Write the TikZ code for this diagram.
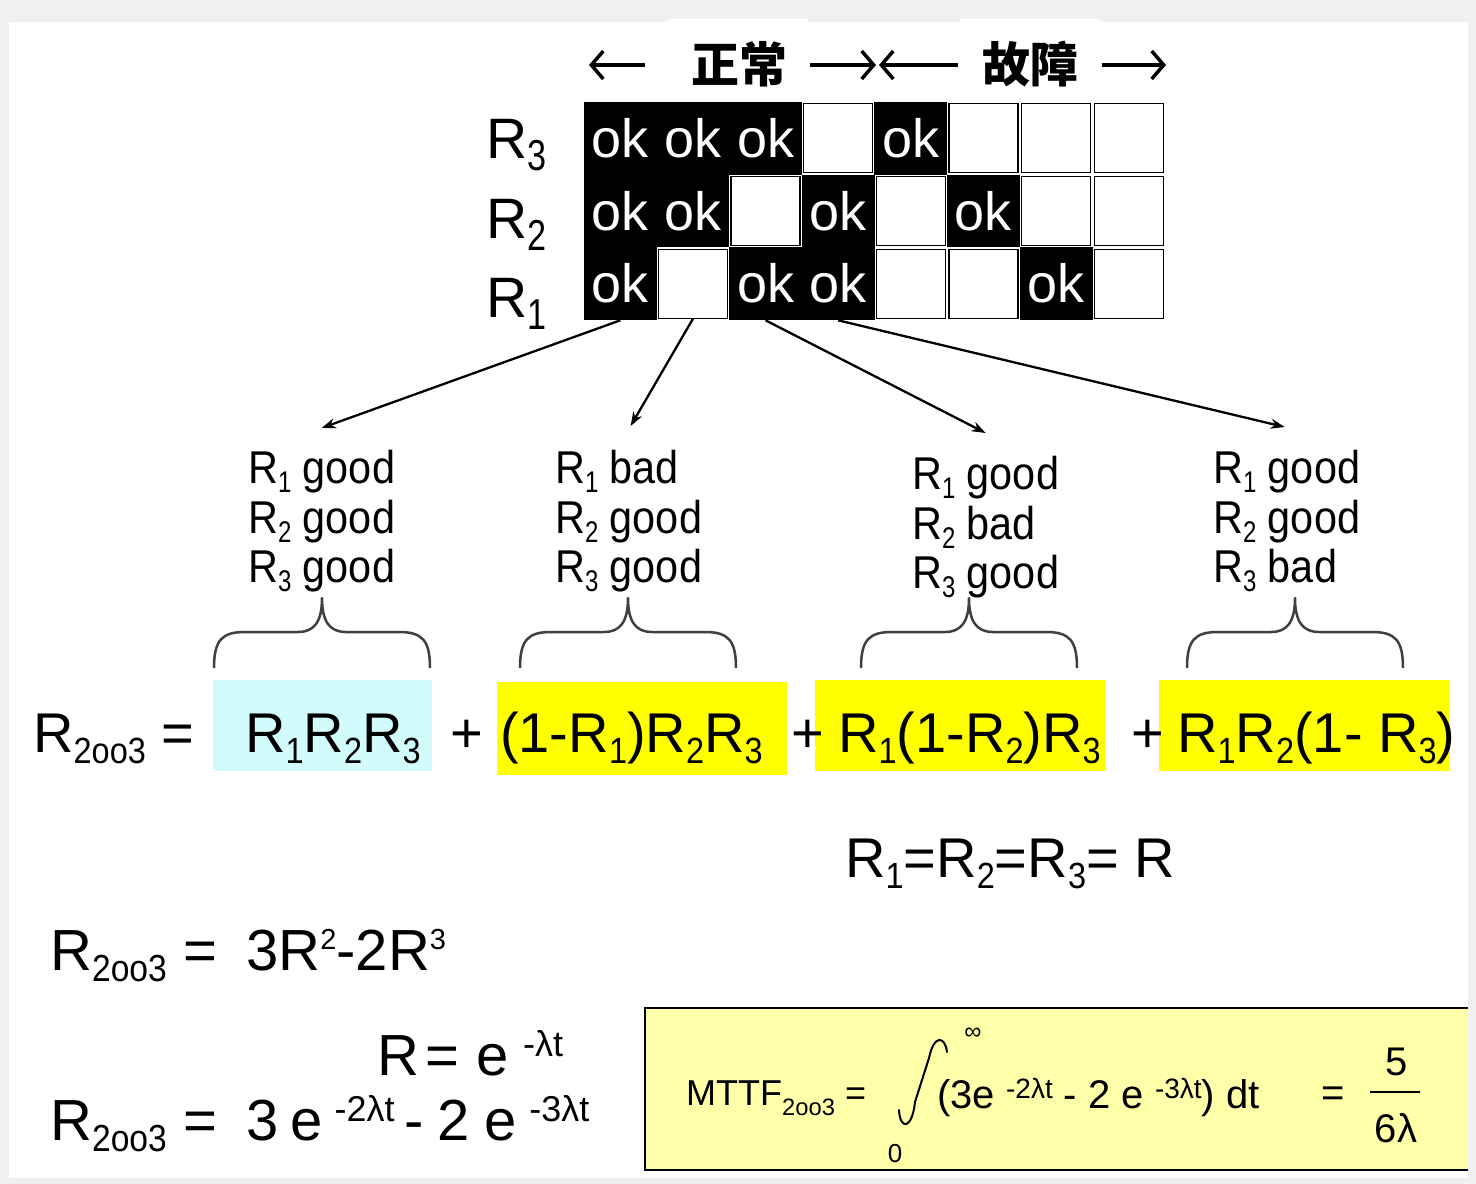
\documentclass[tikz,border=0pt]{standalone}
\usepackage{fontspec}
\usepackage{graphicx}
\setmainfont{Liberation Sans}
\newfontfamily\cjkfont{Noto Sans CJK SC}
\newfontfamily\narrowfont[FakeStretch=0.9]{Liberation Sans}
\usetikzlibrary{arrows.meta,calc}
\newcommand\sbx[1]{\raisebox{-0.2em}{\scalebox{0.58}[0.65]{#1}}}
\newcommand\sbr[1]{\raisebox{-0.22em}{\scalebox{0.6}[0.76]{#1}}}
\newcommand\spx[1]{\raisebox{0.36em}{\scalebox{0.5}{#1}}}
\newcommand\spe[1]{\raisebox{0.32em}{\scalebox{0.62}{#1}}}
\newcommand\spm[1]{\raisebox{0.25em}{\scalebox{0.7}{#1}}}
\definecolor{framegray}{HTML}{F0F0F2}
\definecolor{lcyan}{HTML}{D2FCFC}
\definecolor{hyellow}{HTML}{FFFF00}
\definecolor{lyellow}{HTML}{FFFFAA}
\definecolor{bracegray}{HTML}{404040}
\tikzset{
  okcell/.style={fill=black, text=white, minimum width=72.9pt, minimum height=72.9pt, inner sep=0pt, font=\fontsize{54}{60}\selectfont},
  offcell/.style={fill=white, draw=black, line width=1.2pt, minimum width=69pt, minimum height=69pt, inner sep=0pt},
  rowlab/.style={anchor=base west, inner sep=0pt, font=\fontsize{57}{62}\selectfont},
  titletext/.style={inner sep=0pt, font=\fontsize{48}{52}\selectfont\cjkfont\bfseries},
  tarrow/.style={line width=3.5pt, -{Straight Barb[length=12pt,width=28pt,line width=3.5pt]}},
  conn/.style={line width=2.3pt, -{Stealth[length=14pt,width=10pt]}},
  grp/.style={anchor=north west, inner sep=0pt, align=left, font=\fontsize{46}{49.5}\selectfont\narrowfont},
  eqtext/.style={anchor=base west, inner sep=0pt, font=\fontsize{56}{60}\selectfont},
  bigtext/.style={anchor=base west, inner sep=0pt, font=\fontsize{58}{62}\selectfont},
  mttftext/.style={anchor=base west, inner sep=0pt, font=\fontsize{36}{40}\selectfont},
  exprtext/.style={anchor=base west, inner sep=0pt, font=\fontsize{40}{44}\selectfont},
  fractext/.style={inner sep=0pt, font=\fontsize{40}{44}\selectfont},
  curlybrace/.pic={
    \draw[bracegray, line width=2.5pt, line join=round]
      (-108,36) .. controls (-108,8) and (-100,0) .. (-77,0) -- (-24,0)
      .. controls (-8,0) and (0,-10) .. (0,-34)
      .. controls (0,-10) and (8,0) .. (24,0) -- (77,0)
      .. controls (100,0) and (108,8) .. (108,36);
  }
}
\begin{document}
\begin{tikzpicture}[x=1pt,y=-1pt]
\useasboundingbox (0,0) rectangle (1476,1184);
% background
\fill[framegray] (0,0) rectangle (1476,1184);
\fill[white] (9,22) rectangle (1468,1178);
\fill[white] (668,19) rectangle (808,102);
\fill[white] (960,19) rectangle (1100,102);

% title
\node[titletext] (t1) at (739,64) {正常};
\node[titletext] (t2) at (1030,64) {故障};
\coordinate (nLs) at (645,65);
\coordinate (nLe) at (589,65);
\coordinate (nRs) at (810,65);
\coordinate (nRe) at (876,65);
\coordinate (fLs) at (958,65);
\coordinate (fLe) at (879,65);
\coordinate (fRs) at (1102,65);
\coordinate (fRe) at (1166,65);
\draw[tarrow] (nLs) -- (nLe);
\draw[tarrow] (nRs) -- (nRe);
\draw[tarrow] (fLs) -- (fLe);
\draw[tarrow] (fRs) -- (fRe);

% grid
\foreach \pat [count=\r] in {{1,1,1,0,1,0,0,0},{1,1,0,1,0,1,0,0},{1,0,1,1,0,0,1,0}} {
  \foreach \v [count=\c] in \pat {
    \pgfmathsetmacro\cx{584+(\c-0.5)*72.625}
    \pgfmathsetmacro\cy{102+(\r-0.5)*72.667}
    \ifnum\v=1
      \node[okcell] (c\r-\c) at (\cx,\cy) {ok};
    \else
      \node[offcell] (c\r-\c) at (\cx,\cy) {};
    \fi
  }
}

% row labels
\node[rowlab] (l3) at (486,158) {R\sbr{3}};
\node[rowlab] (l2) at (486,238) {R\sbr{2}};
\node[rowlab] (l1) at (486,317) {R\sbr{1}};

% groups
\node[grp] (g1) at (248,450) {R\sbx{1} good\\R\sbx{2} good\\R\sbx{3} good};
\node[grp] (g2) at (555,450) {R\sbx{1} bad\\R\sbx{2} good\\R\sbx{3} good};
\node[grp] (g3) at (912,456) {R\sbx{1} good\\R\sbx{2} bad\\R\sbx{3} good};
\node[grp] (g4) at (1213,450) {R\sbx{1} good\\R\sbx{2} good\\R\sbx{3} bad};

% connectors
\draw[conn] (c3-1.south) -- ($(g1.north)+(0,-22)$);
\draw[conn] (c3-2.south) -- ($(g2.north)+(2,-24)$);
\draw[conn] (c3-3.south) -- ($(g3.north)+(0,-23)$);
\draw[conn] (c3-4.south) -- ($(g4.north)+(-2,-23)$);

% braces
\pic at (322,632) {curlybrace};
\pic at (628,632) {curlybrace};
\pic at (969,632) {curlybrace};
\pic at (1295,632) {curlybrace};

% equation row
\fill[lcyan] (213,680) rectangle (432,771);
\fill[hyellow] (497,682) rectangle (787,775);
\fill[hyellow] (815,680) rectangle (1106,771);
\fill[hyellow] (1159,680) rectangle (1450,771);
\node[eqtext] (e0) at (33,752) {R\sbx{2oo3} =};
\node[eqtext] (e1) at (245,752) {R\sbx{1}R\sbx{2}R\sbx{3}};
\node[eqtext] (p1) at (450,752) {+};
\node[eqtext] (e2) at (500,752) {(1-R\sbx{1})R\sbx{2}R\sbx{3}};
\node[eqtext] (p2) at (791,752) {+};
\node[eqtext] (e3) at (838,752) {R\sbx{1}(1-R\sbx{2})R\sbx{3}};
\node[eqtext] (p3) at (1131,752) {+};
\node[eqtext] (e4) at (1177,752) {R\sbx{1}R\sbx{2}(1- R\sbx{3})};

% R1=R2=R3=R
\node[eqtext] (eqR) at (845,877) {R\sbx{1}=R\sbx{2}=R\sbx{3}= R};

% bottom left equations
\node[bigtext] (b1l) at (50,970) {R\sbx{2oo3} =};
\node[bigtext] (b1r) at (246,970) {3R\spx{2}-2R\spx{3}};
\node[bigtext] (b2) at (377,1075) {R\kern6pt=\kern18pt e\kern14pt\spe{-λt}};
\node[bigtext] (b3l) at (50,1140) {R\sbx{2oo3} =};
\node[bigtext] (b3r) at (246,1140) {3\kern12pt e\kern12pt\spe{-2λt}\kern10pt -\kern14pt 2\kern14pt e\kern13pt\spe{-3λt}};

% MTTF box
\fill[lyellow] (645,1008) rectangle (1468,1170);
\draw[line width=2pt] (1468,1008) -- (645,1008) -- (645,1170) -- (1468,1170);
\node[mttftext] (m1) at (686,1105) {MTTF\raisebox{-0.28em}{\scalebox{0.66}{2oo3}} =};
\draw[line width=2pt, line cap=round]
  (899,1110) .. controls (900,1130) and (912,1130) .. (915,1102)
  -- (929,1058) .. controls (934,1034) and (945,1036) .. (947,1052);
\node[inner sep=0pt, font=\fontsize{24}{26}\selectfont] (inf) at (973,1034) {∞};
\node[inner sep=0pt, font=\fontsize{26}{28}\selectfont] (zero) at (895,1154) {0};
\node[exprtext] (m2) at (937,1108) {(3e \spm{-2λt} - 2 e \spm{-3λt}) dt};
\node[fractext] (m3) at (1333,1097) {=};
\node[fractext] (num) at (1397,1062) {5};
\node[fractext] (den) at (1396,1128) {6λ};
\draw[line width=2pt] (1370,1092) -- (1420,1092);
\end{tikzpicture}
\end{document}
